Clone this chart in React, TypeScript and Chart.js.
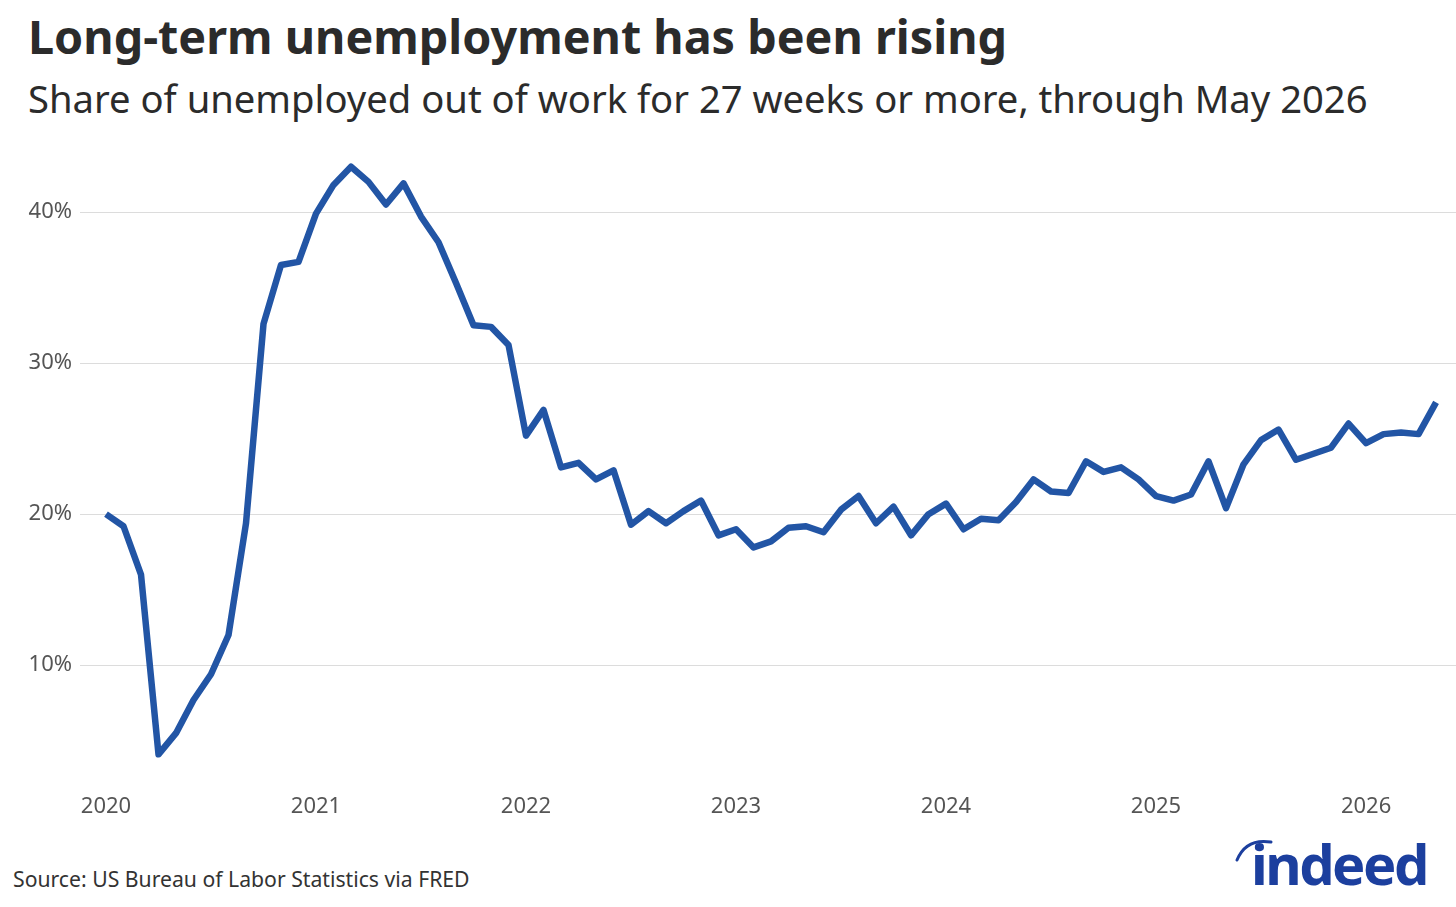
import React, { useEffect, useRef } from "react";
import { Chart, registerables } from "chart.js";

Chart.register(...registerables);

const yearLabels = ["2020", "2021", "2022", "2023", "2024", "2025", "2026"];
const yearTickMonths = [0, 12, 24, 36, 48, 60, 72];
const yTickValues = [10, 20, 30, 40];

const share2020 = [20.0, 19.2, 16.0, 4.1, 5.5, 7.7, 9.4, 12.0, 19.4, 32.6, 36.5, 36.7];
const share2021 = [39.9, 41.8, 43.0, 42.0, 40.5, 41.9, 39.7, 38.0, 35.3, 32.5, 32.4, 31.2];
const share2022 = [25.2, 26.9, 23.1, 23.4, 22.3, 22.9, 19.3, 20.2, 19.4, 20.2, 20.9, 18.6];
const share2023 = [19.0, 17.8, 18.2, 19.1, 19.2, 18.8, 20.3, 21.2, 19.4, 20.5, 18.6, 20.0];
const share2024 = [20.7, 19.0, 19.7, 19.6, 20.8, 22.3, 21.5, 21.4, 23.5, 22.8, 23.1, 22.3];
const share2025 = [21.2, 20.9, 21.3, 23.5, 20.4, 23.3, 24.9, 25.6, 23.6, 24.0, 24.4, 26.0];
const share2026 = [24.7, 25.3, 25.4, 25.3, 27.4];

const FONT = "'Noto Sans', 'Open Sans', sans-serif";

export default function App() {
  const canvasRef = useRef<HTMLCanvasElement | null>(null);

  useEffect(() => {
    document.body.style.margin = "0";
    const values = [
      ...share2020, ...share2021, ...share2022, ...share2023,
      ...share2024, ...share2025, ...share2026,
    ];
    const points = values.map((v, i) => ({ x: i, y: v }));
    const chart = new Chart(canvasRef.current as HTMLCanvasElement, {
      type: "line",
      data: {
        datasets: [
          {
            data: points,
            borderColor: "#2255a5",
            borderWidth: 6.5,
            pointRadius: 0,
            tension: 0,
            borderJoinStyle: "round",
            fill: false,
          },
        ],
      },
      options: {
        responsive: false,
        animation: false,
        layout: { padding: { top: 10, right: 0, bottom: 0, left: 0 } },
        plugins: { legend: { display: false }, tooltip: { enabled: false }, title: { display: false } },
        scales: {
          x: {
            type: "linear",
            min: -1.486,
            max: 77.14,
            grid: { display: false },
            border: { display: false },
            afterBuildTicks: (scale: any) => {
              scale.ticks = yearTickMonths.map((v) => ({ value: v }));
            },
            afterFit: (scale: any) => {
              scale.height = 55;
            },
            ticks: {
              autoSkip: false,
              maxRotation: 0,
              padding: 1,
              color: "#555555",
              font: { family: FONT, size: 22 },
              callback: (value: any) => {
                const idx = yearTickMonths.indexOf(Number(value));
                return idx >= 0 ? yearLabels[idx] : "";
              },
            },
          },
          y: {
            type: "linear",
            min: 2.07,
            max: 44.03,
            grid: { color: "#dcdcdc", lineWidth: 1, drawTicks: false },
            border: { display: false },
            afterBuildTicks: (scale: any) => {
              scale.ticks = yTickValues.map((v) => ({ value: v }));
            },
            afterFit: (scale: any) => {
              scale.width = 80;
            },
            ticks: {
              padding: 8,
              color: "#555555",
              font: { family: FONT, size: 22 },
              callback: (value: any) => `${value}%`,
            },
          },
        },
      },
    });
    return () => chart.destroy();
  }, []);

  return (
    <div style={{ position: "absolute", left: 0, top: 0, width: 1456, height: 907, background: "#ffffff", overflow: "hidden", fontFamily: FONT }}>
      <div style={{ position: "absolute", left: 28, top: 12.5, fontSize: 46.7, lineHeight: 1, fontWeight: 700, color: "#2b2b2b", whiteSpace: "nowrap" }}>
        Long-term unemployment has been rising
      </div>
      <div style={{ position: "absolute", left: 28, top: 79.4, fontSize: 38.2, lineHeight: 1, fontWeight: 400, color: "#2b2b2b", whiteSpace: "nowrap" }}>
        Share of unemployed out of work for 27 weeks or more, through May 2026
      </div>
      <canvas ref={canvasRef} width={1456} height={710} style={{ position: "absolute", left: 0, top: 130 }} />
      <div style={{ position: "absolute", left: 13, top: 868, fontSize: 21.2, lineHeight: 1, color: "#333333", whiteSpace: "nowrap" }}>
        Source: US Bureau of Labor Statistics via FRED
      </div>
      <svg width="60" height="40" style={{ position: "absolute", left: 1230, top: 830 }}>
        <path d="M 7 30 Q 16 8 41 12" stroke="#1c3f9e" strokeWidth="3" fill="none" strokeLinecap="round" />
      </svg>
      <div style={{ position: "absolute", left: 1251, top: 835, fontSize: 56, lineHeight: 1, fontWeight: 700, color: "#1c3f9e", letterSpacing: -2.5, whiteSpace: "nowrap" }}>
        indeed
      </div>
    </div>
  );
}
